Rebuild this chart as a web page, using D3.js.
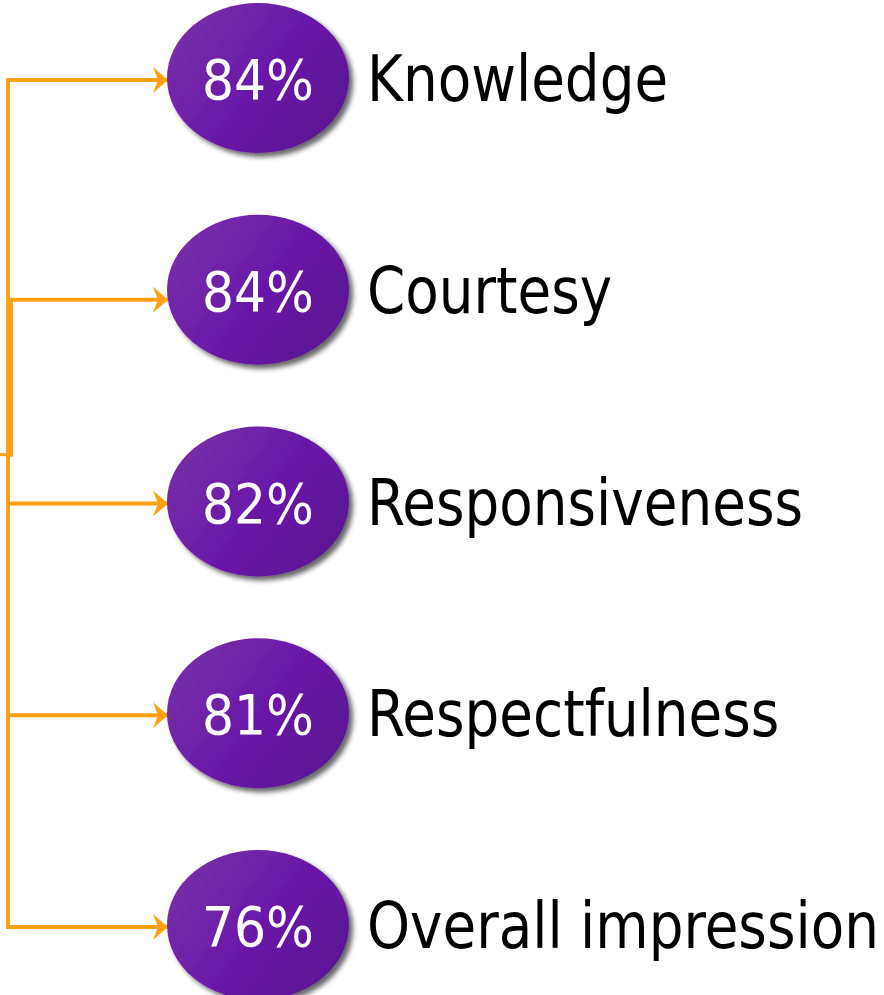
<!DOCTYPE html>
<html>
<head>
<meta charset="utf-8">
<script src="https://cdn.jsdelivr.net/npm/d3@7/dist/d3.min.js"></script>
<style>
  html, body { margin: 0; padding: 0; background: #fff; }
  svg { display: block; }
</style>
</head>
<body>
<svg id="chart" width="884" height="995"></svg>
<script>
"use strict";

// Data
const CATEGORIES = ["Knowledge", "Courtesy", "Responsiveness", "Respectfulness", "Overall impression"];
const VALUES = [84, 84, 82, 81, 76];

// Dimensions
const WIDTH = 884;
const HEIGHT = 995;
const TRUNK_X = 8; // vertical connector
const ELLIPSE_CX = 258;
const RX = 91;
const RY = 75;
const LABEL_X = 367;
const LABEL_MAX_W = 512; // widest label must fit inside the page
const ORANGE = "#ffa010";
const FONT = "'DejaVu Sans Condensed', 'DejaVu Sans', sans-serif";

const SVG = d3.select("#chart");
const DEFS = SVG.append("defs");

// Gradient for bubbles
const grad = DEFS.append("linearGradient")
  .attr("id", "bubble-grad")
  .attr("x1", "0").attr("y1", "0.2")
  .attr("x2", "1").attr("y2", "0.8");
grad.append("stop").attr("offset", "0%").attr("stop-color", "#7630a9");
grad.append("stop").attr("offset", "50%").attr("stop-color", "#6a19a8");
grad.append("stop").attr("offset", "100%").attr("stop-color", "#5b1391");

// Drop shadow
const shadow = DEFS.append("filter")
  .attr("id", "shadow")
  .attr("x", "-20%").attr("y", "-20%")
  .attr("width", "150%").attr("height", "150%");
shadow.append("feGaussianBlur").attr("in", "SourceAlpha").attr("stdDeviation", 2.5).attr("result", "blur");
shadow.append("feOffset").attr("in", "blur").attr("dx", 4).attr("dy", 4).attr("result", "off");
shadow.append("feComponentTransfer").attr("in", "off").attr("result", "soft")
  .append("feFuncA").attr("type", "linear").attr("slope", 0.6);
const merge = shadow.append("feMerge");
merge.append("feMergeNode").attr("in", "soft");
merge.append("feMergeNode").attr("in", "SourceGraphic");

// Arrow marker
DEFS.append("marker")
  .attr("id", "arrow")
  .attr("viewBox", "0 0 15 26")
  .attr("refX", 15).attr("refY", 13)
  .attr("markerWidth", 15).attr("markerHeight", 26)
  .attr("markerUnits", "userSpaceOnUse")
  .attr("orient", "auto")
  .append("path")
  .attr("d", "M0,0 L15,13 L0,26 L5,13 Z")
  .attr("fill", ORANGE);

// Vertical position scale
const Y_SCALE = d3.scalePoint()
  .domain(CATEGORIES)
  .range([78, 925]);

const G_LINES = SVG.append("g").attr("class", "connectors");
const midY = (Y_SCALE(CATEGORIES[1]) + Y_SCALE(CATEGORIES[2])) / 2 + 59;

// Trunk
G_LINES.append("line")
  .attr("x1", TRUNK_X).attr("x2", TRUNK_X)
  .attr("y1", Y_SCALE(CATEGORIES[0]))
  .attr("y2", Y_SCALE(CATEGORIES[CATEGORIES.length - 1]))
  .attr("stroke", ORANGE)
  .attr("stroke-width", 4);

// Thicker doubled segment and stub near the middle
G_LINES.append("line")
  .attr("x1", TRUNK_X + 3).attr("x2", TRUNK_X + 3)
  .attr("y1", Y_SCALE(CATEGORIES[1]) + 10)
  .attr("y2", midY + 2)
  .attr("stroke", ORANGE)
  .attr("stroke-width", 4);
G_LINES.append("line")
  .attr("x1", 0).attr("x2", TRUNK_X + 4)
  .attr("y1", midY)
  .attr("y2", midY)
  .attr("stroke", ORANGE)
  .attr("stroke-width", 3);

// Branch arrows
G_LINES.selectAll("line.branch")
  .data(CATEGORIES)
  .enter()
  .append("line")
  .classed("branch", true)
  .attr("x1", TRUNK_X - 2)
  .attr("x2", ELLIPSE_CX - RX + 1)
  .attr("y1", (d, i) => Y_SCALE(d) + (i === 1 ? 10 : 2))
  .attr("y2", (d, i) => Y_SCALE(d) + (i === 1 ? 10 : 2))
  .attr("stroke", ORANGE)
  .attr("stroke-width", 4)
  .attr("marker-end", "url(#arrow)");

// Bubbles
const G_ITEMS = SVG.append("g").attr("class", "items");
const item = G_ITEMS.selectAll("g.item")
  .data(CATEGORIES.map((c, i) => ({ label: c, value: VALUES[i] })))
  .enter()
  .append("g")
  .classed("item", true)
  .attr("transform", d => "translate(0," + Y_SCALE(d.label) + ")");

item.append("ellipse")
  .attr("cx", ELLIPSE_CX)
  .attr("cy", 0)
  .attr("rx", RX)
  .attr("ry", RY)
  .attr("fill", "url(#bubble-grad)")
  .attr("filter", "url(#shadow)");

item.append("text")
  .attr("x", ELLIPSE_CX)
  .attr("y", 21)
  .attr("text-anchor", "middle")
  .attr("fill", "#fff")
  .style("font-family", FONT)
  .style("font-size", "56px")
  .text(d => d.value + "%");

const labels = item.append("text")
  .attr("x", 0)
  .attr("y", 23)
  .attr("fill", "#000")
  .style("font-family", FONT)
  .style("font-size", "64px")
  .text(d => d.label);

// Squeeze labels horizontally (common factor) so the widest fits
let widest = 0;
labels.each(function() { widest = Math.max(widest, this.getComputedTextLength()); });
const SQUEEZE = Math.min(1, LABEL_MAX_W / widest);
labels.attr("transform", "translate(" + LABEL_X + ",0) scale(" + SQUEEZE + ",1)");
</script>
</body>
</html>
